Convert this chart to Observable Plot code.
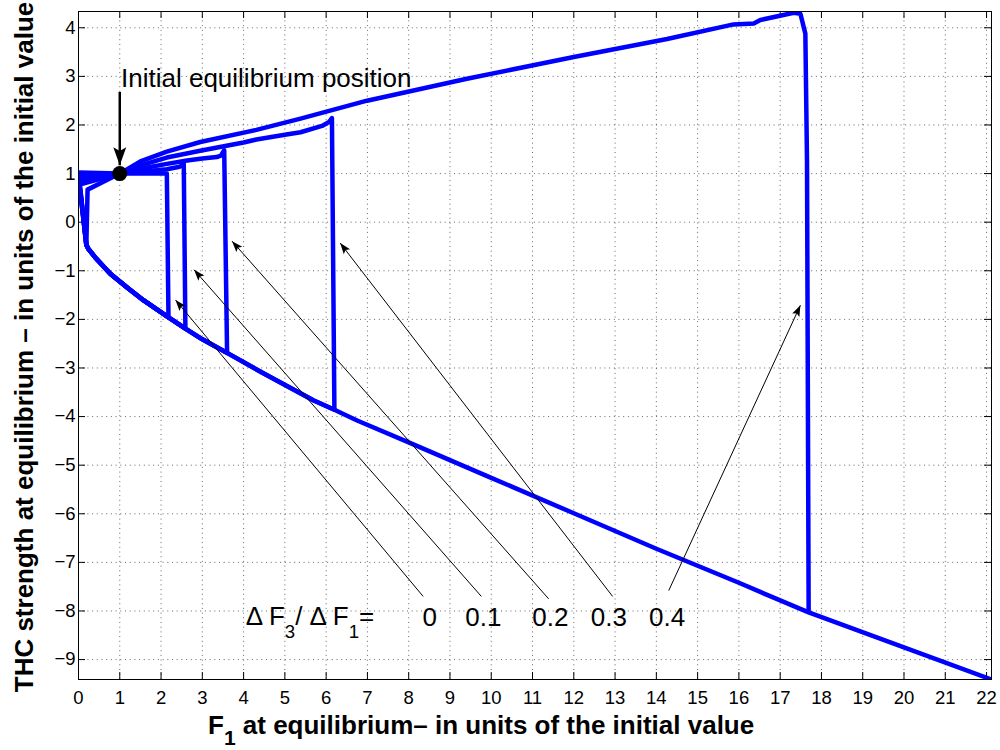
<!DOCTYPE html>
<html>
<head>
<meta charset="utf-8">
<script src="https://cdn.jsdelivr.net/npm/d3@7"></script>
<script src="https://cdn.jsdelivr.net/npm/@observablehq/plot@0.6"></script>
<style>
  html, body { margin: 0; padding: 0; background: #fff; }
  #chart { width: 1000px; height: 750px; }
  svg text { white-space: pre; }
</style>
</head>
<body>
<div id="chart"></div>
<script>
// Axis ticks
const xTicks = [0, 1, 2, 3, 4, 5, 6, 7, 8, 9, 10, 11, 12, 13, 14, 15, 16, 17, 18, 19, 20, 21, 22];
const yTicks = [-9, -8, -7, -6, -5, -4, -3, -2, -1, 0, 1, 2, 3, 4];

// One hysteresis run per ratio ΔF3/ΔF1
const ratioLabels = ["0", "0.1", "0.2", "0.3", "0.4"];

// Upper ("on") branch followed by the collapse of the THC, per run
const upperX = [
  [1, 2.14, 2.18],
  [1, 1.5, 2.14, 2.45, 2.55, 2.59],
  [1, 1.5, 2.14, 2.63, 3.0, 3.35, 3.45, 3.53, 3.60],
  [1, 1.5, 2.14, 2.95, 4.0, 4.31, 5.0, 5.38, 5.9, 6.07, 6.14, 6.20],
  [1, 1.5, 2.14, 2.95, 4.31, 5.38, 6.99, 9.41, 12.0, 14.26, 15.87, 16.36, 16.52, 17.33, 17.49, 17.61, 17.65, 17.69]
];
const upperY = [
  [1, 1.0, -1.96],
  [1, 1.04, 1.09, 1.14, 1.20, -2.19],
  [1, 1.10, 1.20, 1.27, 1.31, 1.34, 1.37, 1.48, -2.69],
  [1, 1.17, 1.33, 1.47, 1.64, 1.70, 1.80, 1.85, 1.98, 2.06, 2.14, -3.86],
  [1, 1.25, 1.45, 1.65, 1.90, 2.13, 2.50, 2.95, 3.40, 3.77, 4.07, 4.09, 4.16, 4.31, 4.29, 3.88, 1.27, -8.03]
];

// Lower ("off") branch, shared by all runs
const lowerX = [0.19, 0.24, 0.4, 0.77, 1.2, 1.58, 2.18, 2.59, 3.0, 3.60, 4.5, 5.70, 6.20, 6.75, 8, 10, 12, 14, 16, 16.77, 17.69, 19.9, 22.12];
const lowerY = [-0.47, -0.55, -0.72, -1.06, -1.36, -1.61, -1.96, -2.19, -2.41, -2.69, -3.12, -3.67, -3.86, -4.08, -4.53, -5.26, -5.99, -6.72, -7.42, -7.70, -8.03, -8.72, -9.41];

// Largest F1 reached by each run before the forcing is reversed
const maxF1 = [2.18, 2.59, 3.60, 6.20, 22.12];

// Recovery near F1 = 0 and return to the initial state
const recoverX = [[0.05, 0.0, 1], [0.05, 0.0, 1], [0.04, 0.0, 1], [0.04, 0.0, 1], [0.22, 1]];
const recoverY = [[0.62, 1.02, 1], [0.63, 0.93, 1], [0.64, 0.85, 1], [0.65, 0.77, 1], [0.67, 1]];

// Annotation arrows from the ratio labels to the runs
const arrowTailX = [8.35, 9.76, 11.39, 12.94, 14.30];
const arrowTailY = [-7.70, -7.70, -7.75, -7.70, -7.58];
const arrowHeadX = [2.35, 2.80, 3.72, 6.34, 17.49];
const arrowHeadY = [-1.60, -0.98, -0.39, -0.43, -1.71];
const ratioLabelX = [8.51, 9.81, 11.43, 12.85, 14.26];
const ratioLabelY = -8.30;

// Initial equilibrium
const eqF1 = [1];
const eqTHC = [1];

// ---- build tables ----
const curveRows = [];
ratioLabels.forEach((ratio, k) => {
  const push = (x, y) => curveRows.push({ratio, f1: x, thc: y});
  upperX[k].forEach((x, i) => push(x, upperY[k][i]));
  const collapseX = upperX[k][upperX[k].length - 1];
  lowerX.forEach((x, i) => { if (x > collapseX && x <= maxF1[k]) push(x, lowerY[i]); });
  for (let i = lowerX.length - 1; i >= 0; --i) if (lowerX[i] <= maxF1[k]) push(lowerX[i], lowerY[i]);
  recoverX[k].forEach((x, i) => push(x, recoverY[k][i]));
});

const arrowRows = ratioLabels.map((ratio, k) => ({
  ratio, x1: arrowTailX[k], y1: arrowTailY[k], x2: arrowHeadX[k], y2: arrowHeadY[k], lx: ratioLabelX[k], ly: ratioLabelY
}));
const eqRows = eqF1.map((x, i) => ({f1: x, thc: eqTHC[i]}));
const eqArrow = [{x1: eqF1[0], y1: 2.68, x2: eqF1[0], y2: 1.17}];

const font = '"Liberation Sans", Arial, Helvetica, sans-serif';
const W = 1000, H = 750, mL = 78, mR = 9, mT = 11, mB = 71;
const innerW = W - mL - mR, innerH = H - mT - mB;
const tickLen = 7;
const gridStyle = {stroke: "#000", strokeOpacity: 0.6, strokeWidth: 1, strokeDasharray: "1,3.7"};

const plot = Plot.plot({
  width: W, height: H,
  marginLeft: mL, marginRight: mR, marginTop: mT, marginBottom: mB,
  style: {fontFamily: font, fontSize: "18.5px", color: "#000", background: "#fff", overflow: "visible"},
  x: {domain: [0, 22.12], ticks: xTicks, tickSize: 0, tickPadding: 11, label: null},
  y: {domain: [-9.41, 4.335], ticks: yTicks, tickSize: 0, tickPadding: 3, label: null},
  marks: [
    Plot.ruleX(xTicks, gridStyle),
    Plot.ruleY(yTicks, gridStyle),
    Plot.ruleX(xTicks, {stroke: "#000", insetTop: innerH - tickLen}),
    Plot.ruleX(xTicks, {stroke: "#000", insetBottom: innerH - tickLen}),
    Plot.ruleY(yTicks, {stroke: "#000", insetRight: innerW - tickLen}),
    Plot.ruleY(yTicks, {stroke: "#000", insetLeft: innerW - tickLen}),
    Plot.line(curveRows, {x: "f1", y: "thc", z: "ratio", stroke: "#0000ff", strokeWidth: 4.5, strokeLinejoin: "round", clip: true}),
    Plot.frame({stroke: "#000", strokeWidth: 1}),
    Plot.link(arrowRows, {x1: "x1", y1: "y1", x2: "x2", y2: "y2", stroke: "#000", strokeWidth: 1}),
    Plot.link(eqArrow, {x1: "x1", y1: "y1", x2: "x2", y2: "y2", stroke: "#000", strokeWidth: 2.5}),
    Plot.dot(eqRows, {x: "f1", y: "thc", r: 7.5, fill: "#000"}),
    Plot.text(["Initial equilibrium position"], {x: 1.03, y: 2.79, text: d => d, fontSize: 26, textAnchor: "start", lineAnchor: "bottom"}),
    Plot.text(arrowRows, {x: "lx", y: "ly", text: "ratio", fontSize: 26, textAnchor: "middle", lineAnchor: "bottom"})
  ]
});

const svg = d3.select(plot);
const sxD = plot.scale("x"), syD = plot.scale("y");
const sx = sxD.apply ? v => sxD.apply(v) : d3.scaleLinear(sxD.domain, sxD.range);
const sy = syD.apply ? v => syD.apply(v) : d3.scaleLinear(syD.domain, syD.range);

// Filled arrowheads
const defs = svg.insert("defs", ":first-child");
function head(id, size) {
  defs.append("marker")
    .attr("id", id).attr("viewBox", "0 -5 10 10")
    .attr("refX", 10).attr("refY", 0)
    .attr("markerWidth", size).attr("markerHeight", size)
    .attr("markerUnits", "userSpaceOnUse").attr("orient", "auto")
    .append("path").attr("d", "M0,-3.6L10,0L0,3.6L2,0Z").attr("fill", "#000");
}
head("head-small", 11);
head("head-big", 18);
const linkGroups = svg.selectAll('g[aria-label="link"]').nodes();
d3.select(linkGroups[0]).selectAll("path").attr("marker-end", "url(#head-small)");
d3.select(linkGroups[1]).selectAll("path").attr("marker-end", "url(#head-big)");

// Ratio heading with subscripts
const lg = svg.append("text")
  .attr("x", sx(4.065)).attr("y", sy(ratioLabelY))
  .attr("text-anchor", "start")
  .attr("font-family", font).attr("font-size", 26).attr("fill", "#000");
lg.append("tspan").text("Δ F");
lg.append("tspan").attr("font-size", 18.6).attr("dy", 13).text("3");
lg.append("tspan").attr("dy", -13).text("/ Δ F");
lg.append("tspan").attr("font-size", 18.6).attr("dy", 13).text("1");
lg.append("tspan").attr("dy", -13).text("=");

// Axis titles
const xl = svg.append("text")
  .attr("x", 208).attr("y", 734)
  .attr("text-anchor", "start")
  .attr("font-family", font).attr("font-size", 26).attr("font-weight", "bold").attr("fill", "#000");
xl.append("tspan").text("F");
xl.append("tspan").attr("font-size", 21).attr("dy", 11).text("1");
xl.append("tspan").attr("dy", -11).text(" at equilibrium– in units of the initial value");

svg.append("text")
  .attr("transform", "translate(33,347) rotate(-90)")
  .attr("text-anchor", "middle")
  .attr("font-family", font).attr("font-size", 26).attr("font-weight", "bold").attr("fill", "#000")
  .text("THC strength at equilibrium – in units of the initial value");

document.getElementById("chart").appendChild(plot);
</script>
</body>
</html>
